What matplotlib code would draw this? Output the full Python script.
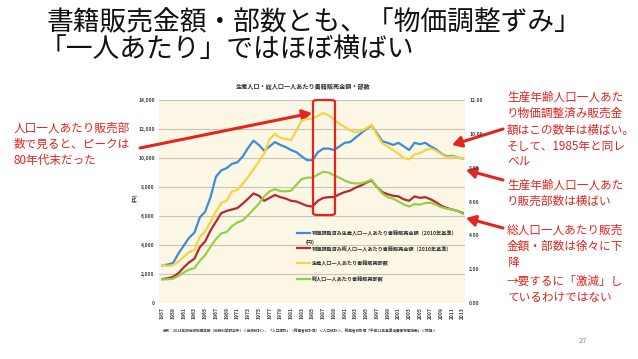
import matplotlib
matplotlib.use("Agg")
import matplotlib.pyplot as plt
from matplotlib.patches import FancyBboxPatch

plt.rcParams['font.family'] = ['Noto Sans CJK JP', 'DejaVu Sans']

years = list(range(1957, 2014))

# 物価調整済み生産人口一人あたり書籍販売金額（円, 左軸）
blue_yen = [2600, 2650, 2750, 3400, 3950, 4500, 4850, 5900, 6300, 7300,
            8700, 9150, 9300, 9600, 9700, 10100, 10700, 11200, 10900, 10500,
            10800, 11100, 10900, 10750, 10550, 10400, 10100, 9850, 9850, 10400,
            10650, 10650, 10550, 10800, 11050, 11100, 11400, 11700, 12000, 12250,
            11700, 11150, 11050, 10900, 11050, 10800, 10550, 11050, 10950, 11050,
            10800, 10600, 10300, 10100, 10150, 10050, 9950]
# 物価調整済み総人口一人あたり書籍販売金額（円, 左軸）
red_yen = [1650, 1700, 1800, 2050, 2450, 2800, 3050, 3850, 4250, 5000,
           5600, 6200, 6350, 6450, 6550, 6850, 7200, 7550, 7400, 7050,
           7250, 7450, 7300, 7200, 7050, 7000, 6850, 6700, 6650, 7050,
           7250, 7300, 7300, 7500, 7650, 7750, 7950, 8100, 8300, 8450,
           8000, 7650, 7500, 7400, 7350, 7150, 7050, 7350, 7250, 7300,
           7150, 6950, 6700, 6550, 6450, 6350, 6200]
# 生産人口一人あたり書籍販売部数（冊, 右軸）
yellow_copies = [2.25, 2.19, 2.23, 2.44, 2.74, 3.00, 3.13, 3.90, 4.24, 4.80,
                 5.40, 5.91, 6.05, 6.60, 6.68, 7.05, 7.46, 7.89, 8.36, 8.83,
                 9.69, 9.99, 9.77, 9.69, 9.63, 10.20, 10.80, 10.89, 10.89, 11.06,
                 11.23, 11.10, 10.84, 10.59, 10.41, 10.20, 10.11, 10.16, 10.33, 10.54,
                 9.94, 9.43, 9.26, 9.04, 8.83, 8.57, 8.49, 8.79, 8.85, 9.04,
                 9.13, 9.00, 8.79, 8.61, 8.66, 8.61, 8.53]
# 総人口一人あたり書籍販売部数（冊, 右軸）
green_copies = [1.40, 1.40, 1.44, 1.60, 1.80, 1.97, 2.06, 2.49, 2.83, 3.34,
                3.77, 4.11, 4.20, 4.54, 4.76, 4.89, 5.19, 5.53, 5.87, 6.30,
                6.60, 6.73, 6.62, 6.60, 6.64, 6.99, 7.33, 7.41, 7.41, 7.59,
                7.76, 7.71, 7.54, 7.41, 7.24, 7.11, 7.07, 7.07, 7.16, 7.29,
                6.86, 6.47, 6.26, 6.17, 6.00, 5.83, 5.70, 5.85, 5.81, 5.91,
                5.93, 5.81, 5.66, 5.57, 5.53, 5.44, 5.27]

series_labels = ['物価調整済み生産人口一人あたり書籍販売金額（2010年基準）',
                 '物価調整済み総人口一人あたり書籍販売金額（2010年基準）',
                 '生産人口一人あたり書籍販売部数',
                 '総人口一人あたり書籍販売部数']
left_ticks = [0, 2000, 4000, 6000, 8000, 10000, 12000, 14000]
left_ticklabels = ['0', '2,000', '4,000', '6,000', '8,000', '10,000', '12,000', '14,000']
right_ticks = [0, 2, 4, 6, 8, 10, 12]
right_ticklabels = ['0.00', '2.00', '4.00', '6.00', '8.00', '10.00', '12.00']
xtick_years = list(range(1957, 2014, 2))

c_blue = '#3b8ed2'
c_red = '#b8282e'
c_yellow = '#f3d444'
c_green = '#93d04a'
c_note = '#e3241f'

W, H = 638, 359
fig = plt.figure(figsize=(W / 100, H / 100), dpi=100)
fig.patch.set_facecolor('white')

def fx(px):
    return px / W

def fy(py):
    return 1 - py / H

L, R, T, B = 159, 465, 100, 303
ax = fig.add_axes([fx(L), fy(B), fx(R) - fx(L), fy(T) - fy(B)])
ax.set_facecolor('#fcf6e4')
ax.set_xlim(1956.4, 2013.4)
ax.set_ylim(0, 14000)
ax.set_yticks(left_ticks)
ax.set_yticklabels(left_ticklabels)
ax.set_xticks(xtick_years)
ax.set_xticklabels([str(y) for y in xtick_years], rotation=90)
ax.grid(axis='y', color='#c8c4b8', linewidth=0.8)
ax.set_axisbelow(True)
for s in ax.spines.values():
    s.set_visible(False)
ax.tick_params(axis='both', length=0, labelsize=3.6, colors='#444444', pad=3)
for t in ax.get_yticklabels() + ax.get_xticklabels():
    t.set_fontweight('bold')

ax2 = ax.twinx()
ax2.set_ylim(0, 12)
ax2.set_yticks(right_ticks)
ax2.set_yticklabels(right_ticklabels)
for s in ax2.spines.values():
    s.set_visible(False)
ax2.tick_params(axis='y', length=0, labelsize=3.6, colors='#444444', pad=3)
for t in ax2.get_yticklabels():
    t.set_fontweight('bold')

lw = 1.6
l1, = ax.plot(years, blue_yen, color=c_blue, lw=lw)
l2, = ax.plot(years, red_yen, color=c_red, lw=lw)
l3, = ax2.plot(years, yellow_copies, color=c_yellow, lw=lw)
l4, = ax2.plot(years, green_copies, color=c_green, lw=lw)

leg = ax2.legend([l1, l2, l3, l4], series_labels, loc='upper left',
                 bbox_to_anchor=(fx(294), fy(228)), bbox_transform=fig.transFigure,
                 frameon=False, fontsize=3.7, handlelength=2.6, handletextpad=0.4,
                 labelspacing=1.85, borderpad=0)
for t in leg.get_texts():
    t.set_fontweight('bold')
    t.set_color('#333333')

fig.text(fx(310), fy(242), '(円)', fontsize=3.7, fontweight='bold', color='#333333',
         ha='center', va='center')
fig.text(fx(135), fy(198), '(円)', fontsize=3.5, fontweight='bold', color='#333333',
         ha='center', va='center', rotation=90)

# chart title & source
fig.text(fx(303), fy(87), '生産人口・総人口一人あたり書籍販売金額・部数', fontsize=4.4,
         fontweight='bold', color='#333333', ha='center', va='center')
fig.text(fx(300), fy(331),
         '出所：2014年版出版指標年報（出版科学研究所）＜出版統計＞、「人口推計」（総務省統計局）＜人口統計＞、総務省統計局「平成22年基準消費者物価指数」＜物価＞',
         fontsize=2.6, fontweight='bold', color='#444444', ha='center', va='center')

# slide title
fig.text(fx(47), fy(23), '書籍販売金額・部数とも、「物価調整ずみ」', fontsize=19.3,
         color='#111111', ha='left', va='center')
fig.text(fx(40), fy(49), '「一人あたり」ではほぼ横ばい', fontsize=19.3,
         color='#111111', ha='left', va='center')

# red box
box = FancyBboxPatch((fx(313), fy(215)), fx(335) - fx(313), fy(100) - fy(215),
                     boxstyle='round,pad=0,rounding_size=0.006', transform=fig.transFigure,
                     fill=False, edgecolor=c_note, linewidth=1.6, zorder=10)
fig.patches.append(box)

# notes
note_kw = dict(fontsize=8.4, color=c_note, ha='left', va='top', linespacing=1.32)
fig.text(fx(14), fy(122), '人口一人あたり販売部\n数で見ると、ピークは\n80年代末だった', **note_kw)
fig.text(fx(507), fy(91), '生産年齢人口一人あた\nり物価調整済み販売金\n額はこの数年は横ばい。\nそして、1985年と同レ\nベル', **note_kw)
fig.text(fx(507), fy(179), '生産年齢人口一人あた\nり販売部数は横ばい', **note_kw)
fig.text(fx(507), fy(224), '総人口一人あたり販売\n金額・部数は徐々に下\n降', **note_kw)
fig.text(fx(507), fy(275), '→要するに「激減」し\nているわけではない', **note_kw)

arrow_kw = dict(arrowstyle='-|>,head_length=0.55,head_width=0.32', color=c_note, lw=2.2,
                shrinkA=0, shrinkB=0)
for (x0, y0), (x1, y1) in [((140, 148), (312, 113)),
                           ((503, 129), (452, 145)),
                           ((503, 180), (466, 170)),
                           ((503, 228), (466, 218))]:
    ax.annotate('', xy=(fx(x1), fy(y1)), xytext=(fx(x0), fy(y0)),
                xycoords='figure fraction', textcoords='figure fraction',
                arrowprops=arrow_kw, annotation_clip=False, zorder=20)

fig.text(fx(583), fy(341), '27', fontsize=5.5, color='#888888', ha='center', va='center')

fig.savefig('out.png', dpi=100, facecolor='white')
